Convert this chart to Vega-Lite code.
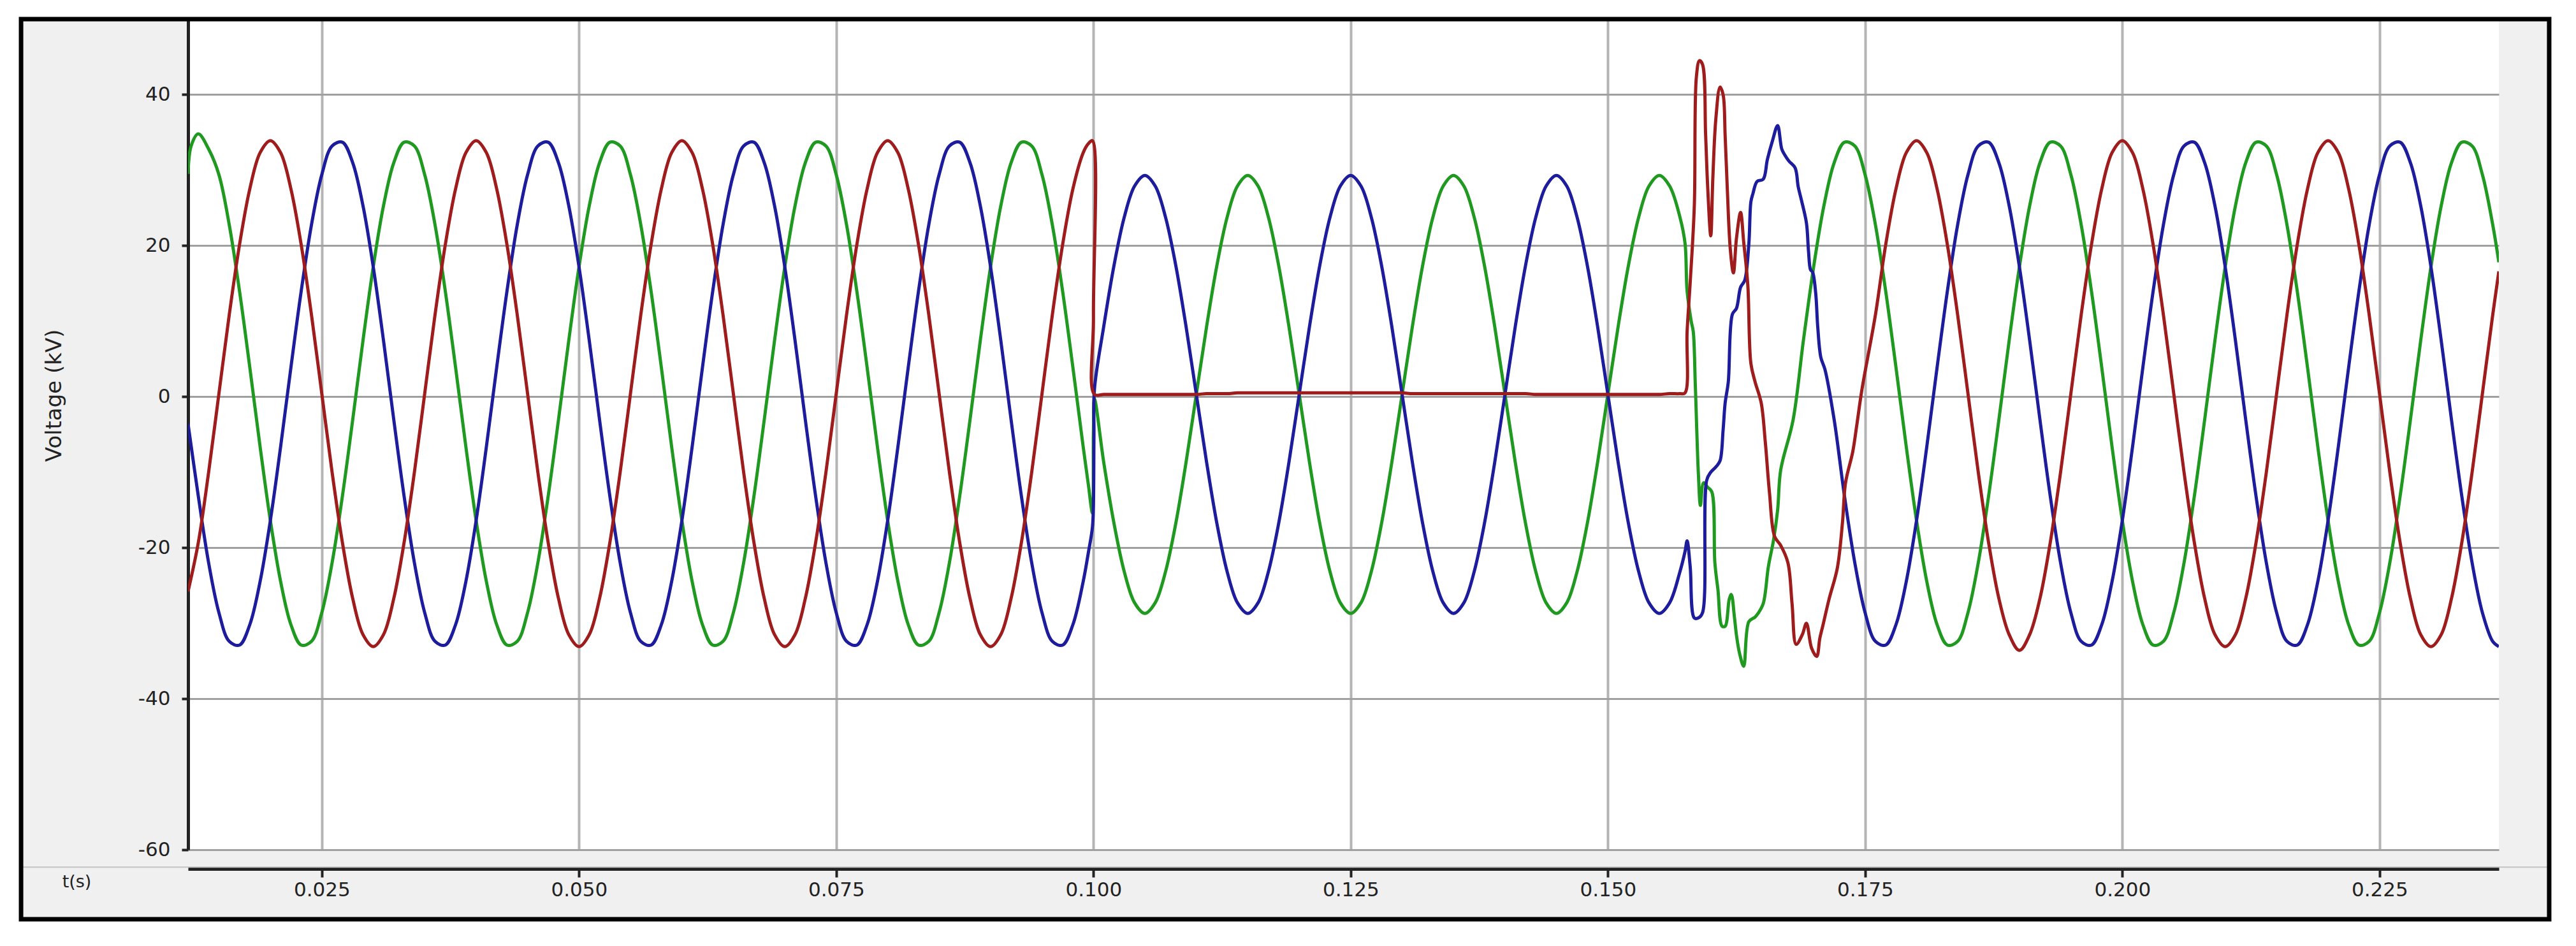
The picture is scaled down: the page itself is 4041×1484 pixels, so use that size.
{
"$schema":"https://vega.github.io/schema/vega-lite/v6.json",
"width":3625,"height":1303,
"autosize":{"type":"none"},
"padding":{"left":295,"top":30,"right":121,"bottom":151},
"background":"#f0f0f0",
"config":{"view":{"stroke":null,"fill":"white"},"font":"DejaVu Sans"},
"layer":[
{"data":{"values":[
{"t":0.012,"Va":-25.8,"Vb":-3.6,"Vc":29.5},
{"t":0.0123,"Vc":33.2},
{"t":0.013,"Va":-19.3,"Vb":-13.2,"Vc":34.8},
{"t":0.014,"Va":-10.0,"Vb":-22.0,"Vc":32.8},
{"t":0.015,"Va":0.4,"Vb":-28.6,"Vc":29.4},
{"t":0.016,"Va":10.8,"Vb":-32.4,"Vc":22.8},
{"t":0.017,"Va":20.1,"Vb":-32.9,"Vc":14.0},
{"t":0.018,"Va":27.5,"Vb":-30.2,"Vc":3.9},
{"t":0.019,"Va":32.3,"Vb":-24.5,"Vc":-6.6},
{"t":0.020,"Va":33.9,"Vb":-16.4,"Vc":-16.4},
{"t":0.021,"Va":32.3,"Vb":-6.6,"Vc":-24.5},
{"t":0.022,"Va":27.5,"Vb":3.9,"Vc":-30.2},
{"t":0.023,"Va":20.1,"Vb":14.0,"Vc":-32.9},
{"t":0.024,"Va":10.8,"Vb":22.8,"Vc":-32.4},
{"t":0.025,"Va":0.4,"Vb":29.4,"Vc":-28.6},
{"t":0.026,"Va":-10.0,"Vb":33.2,"Vc":-22.0},
{"t":0.027,"Va":-19.3,"Vb":33.7,"Vc":-13.2},
{"t":0.028,"Va":-26.7,"Vb":31.0,"Vc":-3.1},
{"t":0.029,"Va":-31.5,"Vb":25.3,"Vc":7.4},
{"t":0.030,"Va":-33.1,"Vb":17.2,"Vc":17.2},
{"t":0.031,"Va":-31.5,"Vb":7.4,"Vc":25.3},
{"t":0.032,"Va":-26.7,"Vb":-3.1,"Vc":31.0},
{"t":0.033,"Va":-19.3,"Vb":-13.2,"Vc":33.7},
{"t":0.034,"Va":-10.0,"Vb":-22.0,"Vc":33.2},
{"t":0.035,"Va":0.4,"Vb":-28.6,"Vc":29.4},
{"t":0.036,"Va":10.8,"Vb":-32.4,"Vc":22.8},
{"t":0.037,"Va":20.1,"Vb":-32.9,"Vc":14.0},
{"t":0.038,"Va":27.5,"Vb":-30.2,"Vc":3.9},
{"t":0.039,"Va":32.3,"Vb":-24.5,"Vc":-6.6},
{"t":0.040,"Va":33.9,"Vb":-16.4,"Vc":-16.4},
{"t":0.041,"Va":32.3,"Vb":-6.6,"Vc":-24.5},
{"t":0.042,"Va":27.5,"Vb":3.9,"Vc":-30.2},
{"t":0.043,"Va":20.1,"Vb":14.0,"Vc":-32.9},
{"t":0.044,"Va":10.8,"Vb":22.8,"Vc":-32.4},
{"t":0.045,"Va":0.4,"Vb":29.4,"Vc":-28.6},
{"t":0.046,"Va":-10.0,"Vb":33.2,"Vc":-22.0},
{"t":0.047,"Va":-19.3,"Vb":33.7,"Vc":-13.2},
{"t":0.048,"Va":-26.7,"Vb":31.0,"Vc":-3.1},
{"t":0.049,"Va":-31.5,"Vb":25.3,"Vc":7.4},
{"t":0.050,"Va":-33.1,"Vb":17.2,"Vc":17.2},
{"t":0.051,"Va":-31.5,"Vb":7.4,"Vc":25.3},
{"t":0.052,"Va":-26.7,"Vb":-3.1,"Vc":31.0},
{"t":0.053,"Va":-19.3,"Vb":-13.2,"Vc":33.7},
{"t":0.054,"Va":-10.0,"Vb":-22.0,"Vc":33.2},
{"t":0.055,"Va":0.4,"Vb":-28.6,"Vc":29.4},
{"t":0.056,"Va":10.8,"Vb":-32.4,"Vc":22.8},
{"t":0.057,"Va":20.1,"Vb":-32.9,"Vc":14.0},
{"t":0.058,"Va":27.5,"Vb":-30.2,"Vc":3.9},
{"t":0.059,"Va":32.3,"Vb":-24.5,"Vc":-6.6},
{"t":0.060,"Va":33.9,"Vb":-16.4,"Vc":-16.4},
{"t":0.061,"Va":32.3,"Vb":-6.6,"Vc":-24.5},
{"t":0.062,"Va":27.5,"Vb":3.9,"Vc":-30.2},
{"t":0.063,"Va":20.1,"Vb":14.0,"Vc":-32.9},
{"t":0.064,"Va":10.8,"Vb":22.8,"Vc":-32.4},
{"t":0.065,"Va":0.4,"Vb":29.4,"Vc":-28.6},
{"t":0.066,"Va":-10.0,"Vb":33.2,"Vc":-22.0},
{"t":0.067,"Va":-19.3,"Vb":33.7,"Vc":-13.2},
{"t":0.068,"Va":-26.7,"Vb":31.0,"Vc":-3.1},
{"t":0.069,"Va":-31.5,"Vb":25.3,"Vc":7.4},
{"t":0.070,"Va":-33.1,"Vb":17.2,"Vc":17.2},
{"t":0.071,"Va":-31.5,"Vb":7.4,"Vc":25.3},
{"t":0.072,"Va":-26.7,"Vb":-3.1,"Vc":31.0},
{"t":0.073,"Va":-19.3,"Vb":-13.2,"Vc":33.7},
{"t":0.074,"Va":-10.0,"Vb":-22.0,"Vc":33.2},
{"t":0.075,"Va":0.4,"Vb":-28.6,"Vc":29.4},
{"t":0.076,"Va":10.8,"Vb":-32.4,"Vc":22.8},
{"t":0.077,"Va":20.1,"Vb":-32.9,"Vc":14.0},
{"t":0.078,"Va":27.5,"Vb":-30.2,"Vc":3.9},
{"t":0.079,"Va":32.3,"Vb":-24.5,"Vc":-6.6},
{"t":0.080,"Va":33.9,"Vb":-16.4,"Vc":-16.4},
{"t":0.081,"Va":32.3,"Vb":-6.6,"Vc":-24.5},
{"t":0.082,"Va":27.5,"Vb":3.9,"Vc":-30.2},
{"t":0.083,"Va":20.1,"Vb":14.0,"Vc":-32.9},
{"t":0.084,"Va":10.8,"Vb":22.8,"Vc":-32.4},
{"t":0.085,"Va":0.4,"Vb":29.4,"Vc":-28.6},
{"t":0.086,"Va":-10.0,"Vb":33.2,"Vc":-22.0},
{"t":0.087,"Va":-19.3,"Vb":33.7,"Vc":-13.2},
{"t":0.088,"Va":-26.7,"Vb":31.0,"Vc":-3.1},
{"t":0.089,"Va":-31.5,"Vb":25.3,"Vc":7.4},
{"t":0.090,"Va":-33.1,"Vb":17.2,"Vc":17.2},
{"t":0.091,"Va":-31.5,"Vb":7.4,"Vc":25.3},
{"t":0.092,"Va":-26.7,"Vb":-3.1,"Vc":31.0},
{"t":0.093,"Va":-19.3,"Vb":-13.2,"Vc":33.7},
{"t":0.094,"Va":-10.0,"Vb":-22.0,"Vc":33.2},
{"t":0.095,"Va":0.4,"Vb":-28.6,"Vc":29.4},
{"t":0.096,"Va":10.8,"Vb":-32.4,"Vc":22.8},
{"t":0.097,"Va":20.1,"Vb":-32.9,"Vc":14.0},
{"t":0.098,"Va":27.5,"Vb":-30.2,"Vc":3.9},
{"t":0.099,"Va":32.3,"Vb":-24.5,"Vc":-6.6},
{"t":0.0995,"Va":33.5,"Vb":-20.7,"Vc":-11.6},
{"t":0.0999,"Va":33.9,"Vb":-17.3,"Vc":-15.4},
{"t":0.1,"Va":10.6,"Vb":-14.1,"Vc":-4.5},
{"t":0.10005,"Vb":-5.0},
{"t":0.1001,"Va":0.3,"Vb":1.0,"Vc":-0.3},
{"t":0.101,"Va":0.3,"Vb":9.3,"Vc":-8.7},
{"t":0.102,"Va":0.3,"Vb":17.4,"Vc":-16.8},
{"t":0.103,"Va":0.3,"Vb":23.8,"Vc":-23.2},
{"t":0.104,"Va":0.3,"Vb":27.9,"Vc":-27.3},
{"t":0.105,"Va":0.3,"Vb":29.3,"Vc":-28.7},
{"t":0.106,"Va":0.3,"Vb":27.9,"Vc":-27.3},
{"t":0.107,"Va":0.3,"Vb":23.8,"Vc":-23.2},
{"t":0.108,"Va":0.3,"Vb":17.4,"Vc":-16.8},
{"t":0.109,"Va":0.3,"Vb":9.3,"Vc":-8.7},
{"t":0.110,"Va":0.3,"Vb":0.3,"Vc":0.3},
{"t":0.111,"Va":0.4,"Vb":-8.7,"Vc":9.3},
{"t":0.112,"Va":0.4,"Vb":-16.8,"Vc":17.4},
{"t":0.113,"Va":0.4,"Vb":-23.2,"Vc":23.8},
{"t":0.114,"Va":0.5,"Vb":-27.3,"Vc":27.9},
{"t":0.115,"Va":0.5,"Vb":-28.7,"Vc":29.3},
{"t":0.116,"Va":0.5,"Vb":-27.3,"Vc":27.9},
{"t":0.117,"Va":0.5,"Vb":-23.2,"Vc":23.8},
{"t":0.118,"Va":0.5,"Vb":-16.8,"Vc":17.4},
{"t":0.119,"Va":0.5,"Vb":-8.7,"Vc":9.3},
{"t":0.120,"Va":0.5,"Vb":0.3,"Vc":0.3},
{"t":0.121,"Va":0.5,"Vb":9.3,"Vc":-8.7},
{"t":0.122,"Va":0.5,"Vb":17.4,"Vc":-16.8},
{"t":0.123,"Va":0.5,"Vb":23.8,"Vc":-23.2},
{"t":0.124,"Va":0.5,"Vb":27.9,"Vc":-27.3},
{"t":0.125,"Va":0.5,"Vb":29.3,"Vc":-28.7},
{"t":0.126,"Va":0.5,"Vb":27.9,"Vc":-27.3},
{"t":0.127,"Va":0.5,"Vb":23.8,"Vc":-23.2},
{"t":0.128,"Va":0.5,"Vb":17.4,"Vc":-16.8},
{"t":0.129,"Va":0.5,"Vb":9.3,"Vc":-8.7},
{"t":0.130,"Va":0.5,"Vb":0.3,"Vc":0.3},
{"t":0.131,"Va":0.4,"Vb":-8.7,"Vc":9.3},
{"t":0.132,"Va":0.4,"Vb":-16.8,"Vc":17.4},
{"t":0.133,"Va":0.4,"Vb":-23.2,"Vc":23.8},
{"t":0.134,"Va":0.4,"Vb":-27.3,"Vc":27.9},
{"t":0.135,"Va":0.4,"Vb":-28.7,"Vc":29.3},
{"t":0.136,"Va":0.4,"Vb":-27.3,"Vc":27.9},
{"t":0.137,"Va":0.4,"Vb":-23.2,"Vc":23.8},
{"t":0.138,"Va":0.4,"Vb":-16.8,"Vc":17.4},
{"t":0.139,"Va":0.4,"Vb":-8.7,"Vc":9.3},
{"t":0.140,"Va":0.4,"Vb":0.3,"Vc":0.3},
{"t":0.141,"Va":0.4,"Vb":9.3,"Vc":-8.7},
{"t":0.142,"Va":0.4,"Vb":17.4,"Vc":-16.8},
{"t":0.143,"Va":0.3,"Vb":23.8,"Vc":-23.2},
{"t":0.144,"Va":0.3,"Vb":27.9,"Vc":-27.3},
{"t":0.145,"Va":0.3,"Vb":29.3,"Vc":-28.7},
{"t":0.146,"Va":0.3,"Vb":27.9,"Vc":-27.3},
{"t":0.147,"Va":0.3,"Vb":23.8,"Vc":-23.2},
{"t":0.148,"Va":0.3,"Vb":17.4,"Vc":-16.8},
{"t":0.149,"Va":0.3,"Vb":9.3,"Vc":-8.7},
{"t":0.150,"Va":0.3,"Vb":0.3,"Vc":0.3},
{"t":0.151,"Va":0.3,"Vb":-8.7,"Vc":9.3},
{"t":0.152,"Va":0.3,"Vb":-16.8,"Vc":17.4},
{"t":0.153,"Va":0.3,"Vb":-23.2,"Vc":23.8},
{"t":0.154,"Va":0.3,"Vb":-27.3,"Vc":27.9},
{"t":0.155,"Va":0.3,"Vb":-28.7,"Vc":29.3},
{"t":0.156,"Va":0.4,"Vb":-27.3,"Vc":27.9},
{"t":0.157,"Va":0.4,"Vb":-23.2,"Vc":23.8},
{"t":0.1575,"Va":0.5,"Vb":-20.5,"Vc":20.3},
{"t":0.1577,"Va":8.6,"Vb":-19.1,"Vc":14.0},
{"t":0.158,"Va":15.1,"Vb":-22.5},
{"t":0.1581,"Vc":10.0},
{"t":0.1583,"Vc":8.6},
{"t":0.1584,"Va":25.2,"Vb":-29.3},
{"t":0.1585,"Vc":1.5},
{"t":0.1586,"Va":42.3},
{"t":0.1588,"Vb":-29.3,"Vc":-10.3},
{"t":0.1589,"Va":44.5},
{"t":0.159,"Vc":-14.4},
{"t":0.1592,"Va":44.0,"Vb":-28.6},
{"t":0.1593,"Vc":-11.4},
{"t":0.1595,"Va":34.7},
{"t":0.1596,"Vb":-11.1},
{"t":0.1597,"Va":27.8,"Vc":-12.0},
{"t":0.16,"Va":21.3,"Vb":-10.0},
{"t":0.1601,"Vc":-12.6},
{"t":0.1602,"Va":28.9},
{"t":0.1604,"Vc":-22.0},
{"t":0.1605,"Va":36.9,"Vb":-9.3},
{"t":0.1607,"Vc":-25.6},
{"t":0.1609,"Va":41.0,"Vb":-8.5},
{"t":0.1611,"Vc":-30.4},
{"t":0.1612,"Va":40.0,"Vb":-4.4},
{"t":0.1614,"Va":34.5,"Vb":-0.8,"Vc":-30.4},
{"t":0.1616,"Va":27.8},
{"t":0.1617,"Vb":1.9},
{"t":0.1618,"Vc":-26.8},
{"t":0.1619,"Va":19.5},
{"t":0.162,"Vc":-26.2},
{"t":0.1621,"Vb":10.9},
{"t":0.1622,"Va":16.4},
{"t":0.1623,"Vc":-29.2},
{"t":0.1625,"Va":21.0,"Vb":11.7,"Vc":-31.6},
{"t":0.1628,"Vc":-34.0},
{"t":0.1629,"Va":24.4,"Vb":14.5},
{"t":0.1632,"Va":20.5,"Vc":-35.7},
{"t":0.1633,"Vb":15.4},
{"t":0.1636,"Va":14.8},
{"t":0.1637,"Vb":20.2,"Vc":-29.8},
{"t":0.1639,"Va":4.4,"Vb":25.8},
{"t":0.1641,"Vb":26.9},
{"t":0.1643,"Va":2.0,"Vc":-29.2},
{"t":0.1645,"Vb":28.5},
{"t":0.1646,"Vc":-28.7},
{"t":0.1649,"Va":-0.8},
{"t":0.1651,"Vb":28.8,"Vc":-27.4},
{"t":0.1653,"Va":-6.0},
{"t":0.1655,"Vb":31.4},
{"t":0.1656,"Vc":-22.5},
{"t":0.1657,"Va":-12.6},
{"t":0.166,"Vb":33.9},
{"t":0.1661,"Vc":-19.0},
{"t":0.1662,"Va":-18.5},
{"t":0.1665,"Vb":35.9,"Vc":-15.0},
{"t":0.1668,"Va":-19.7,"Vc":-9.7},
{"t":0.1669,"Vb":32.8},
{"t":0.1672,"Vb":32.0},
{"t":0.1675,"Va":-22.0},
{"t":0.1676,"Vb":31.2},
{"t":0.1679,"Va":-27.4},
{"t":0.168,"Vc":-3.1},
{"t":0.1682,"Vb":30.3},
{"t":0.1683,"Va":-32.8},
{"t":0.1685,"Vb":27.8},
{"t":0.1688,"Vb":26.1},
{"t":0.1689,"Va":-31.5},
{"t":0.169,"Vc":7.4},
{"t":0.1693,"Va":-30.0,"Vb":23.0},
{"t":0.1695,"Vb":19.3},
{"t":0.1697,"Vb":16.8},
{"t":0.1698,"Va":-33.3},
{"t":0.1699,"Vb":16.5},
{"t":0.17,"Vc":17.2},
{"t":0.1702,"Vb":13.7},
{"t":0.1703,"Va":-34.4},
{"t":0.1704,"Vb":9.2},
{"t":0.1706,"Va":-32.0},
{"t":0.1707,"Vb":5.2},
{"t":0.1709,"Va":-30.3},
{"t":0.171,"Vc":25.3},
{"t":0.1711,"Vb":3.6},
{"t":0.1715,"Va":-26.8},
{"t":0.172,"Vb":-3.1,"Vc":31.0},
{"t":0.1723,"Va":-22.7},
{"t":0.1728,"Va":-16.7},
{"t":0.173,"Vb":-13.2,"Vc":33.7},
{"t":0.1731,"Va":-11.4},
{"t":0.1738,"Va":-7.3},
{"t":0.174,"Vb":-22.0,"Vc":33.2},
{"t":0.1742,"Va":-3.7},
{"t":0.1747,"Va":1.0},
{"t":0.175,"Vb":-28.6,"Vc":29.4},
{"t":0.176,"Va":10.8,"Vb":-32.4,"Vc":22.8},
{"t":0.177,"Va":20.1,"Vb":-32.9,"Vc":14.0},
{"t":0.178,"Va":27.5,"Vb":-30.2,"Vc":3.9},
{"t":0.179,"Va":32.3,"Vb":-24.5,"Vc":-6.6},
{"t":0.180,"Va":33.9,"Vb":-16.4,"Vc":-16.4},
{"t":0.181,"Va":32.3,"Vb":-6.6,"Vc":-24.5},
{"t":0.182,"Va":27.5,"Vb":3.9,"Vc":-30.2},
{"t":0.183,"Va":20.1,"Vb":14.0,"Vc":-32.9},
{"t":0.184,"Va":10.8,"Vb":22.8,"Vc":-32.4},
{"t":0.185,"Va":0.4,"Vb":29.4,"Vc":-28.6},
{"t":0.186,"Va":-10.0,"Vb":33.2,"Vc":-22.0},
{"t":0.187,"Va":-19.3,"Vb":33.7,"Vc":-13.2},
{"t":0.188,"Va":-26.7,"Vb":31.0,"Vc":-3.1},
{"t":0.189,"Va":-31.5,"Vb":25.3,"Vc":7.4},
{"t":0.190,"Va":-33.6,"Vb":17.2,"Vc":17.2},
{"t":0.191,"Va":-31.5,"Vb":7.4,"Vc":25.3},
{"t":0.192,"Va":-26.7,"Vb":-3.1,"Vc":31.0},
{"t":0.193,"Va":-19.3,"Vb":-13.2,"Vc":33.7},
{"t":0.194,"Va":-10.0,"Vb":-22.0,"Vc":33.2},
{"t":0.195,"Va":0.4,"Vb":-28.6,"Vc":29.4},
{"t":0.196,"Va":10.8,"Vb":-32.4,"Vc":22.8},
{"t":0.197,"Va":20.1,"Vb":-32.9,"Vc":14.0},
{"t":0.198,"Va":27.5,"Vb":-30.2,"Vc":3.9},
{"t":0.199,"Va":32.3,"Vb":-24.5,"Vc":-6.6},
{"t":0.200,"Va":33.9,"Vb":-16.4,"Vc":-16.4},
{"t":0.201,"Va":32.3,"Vb":-6.6,"Vc":-24.5},
{"t":0.202,"Va":27.5,"Vb":3.9,"Vc":-30.2},
{"t":0.203,"Va":20.1,"Vb":14.0,"Vc":-32.9},
{"t":0.204,"Va":10.8,"Vb":22.8,"Vc":-32.4},
{"t":0.205,"Va":0.4,"Vb":29.4,"Vc":-28.6},
{"t":0.206,"Va":-10.0,"Vb":33.2,"Vc":-22.0},
{"t":0.207,"Va":-19.3,"Vb":33.7,"Vc":-13.2},
{"t":0.208,"Va":-26.7,"Vb":31.0,"Vc":-3.1},
{"t":0.209,"Va":-31.5,"Vb":25.3,"Vc":7.4},
{"t":0.210,"Va":-33.1,"Vb":17.2,"Vc":17.2},
{"t":0.211,"Va":-31.5,"Vb":7.4,"Vc":25.3},
{"t":0.212,"Va":-26.7,"Vb":-3.1,"Vc":31.0},
{"t":0.213,"Va":-19.3,"Vb":-13.2,"Vc":33.7},
{"t":0.214,"Va":-10.0,"Vb":-22.0,"Vc":33.2},
{"t":0.215,"Va":0.4,"Vb":-28.6,"Vc":29.4},
{"t":0.216,"Va":10.8,"Vb":-32.4,"Vc":22.8},
{"t":0.217,"Va":20.1,"Vb":-32.9,"Vc":14.0},
{"t":0.218,"Va":27.5,"Vb":-30.2,"Vc":3.9},
{"t":0.219,"Va":32.3,"Vb":-24.5,"Vc":-6.6},
{"t":0.220,"Va":33.9,"Vb":-16.4,"Vc":-16.4},
{"t":0.221,"Va":32.3,"Vb":-6.6,"Vc":-24.5},
{"t":0.222,"Va":27.5,"Vb":3.9,"Vc":-30.2},
{"t":0.223,"Va":20.1,"Vb":14.0,"Vc":-32.9},
{"t":0.224,"Va":10.8,"Vb":22.8,"Vc":-32.4},
{"t":0.225,"Va":0.4,"Vb":29.4,"Vc":-28.6},
{"t":0.226,"Va":-10.0,"Vb":33.2,"Vc":-22.0},
{"t":0.227,"Va":-19.3,"Vb":33.7,"Vc":-13.2},
{"t":0.228,"Va":-26.7,"Vb":31.0,"Vc":-3.1},
{"t":0.229,"Va":-31.5,"Vb":25.3,"Vc":7.4},
{"t":0.230,"Va":-33.1,"Vb":17.2,"Vc":17.2},
{"t":0.231,"Va":-31.5,"Vb":7.4,"Vc":25.3},
{"t":0.232,"Va":-26.7,"Vb":-3.1,"Vc":31.0},
{"t":0.233,"Va":-19.3,"Vb":-13.2,"Vc":33.7},
{"t":0.234,"Va":-10.0,"Vb":-22.0,"Vc":33.2},
{"t":0.235,"Va":0.4,"Vb":-28.6,"Vc":29.4},
{"t":0.236,"Va":10.8,"Vb":-32.4,"Vc":22.8},
{"t":0.2366,"Va":16.6,"Vb":-33.1,"Vc":17.8}
]},
"transform":[{"fold":["Vc","Vb","Va"],"as":["ph","v"]},{"filter":"isValid(datum.v)"}],
"mark":{"type":"line","strokeWidth":5,"interpolate":"catmull-rom","strokeJoin":"round","clip":true},
"encoding":{
"x":{"field":"t","type":"quantitative","scale":{"domain":[0.012,0.2366],"nice":false,"zero":false},
"axis":{"title":"t(s)","values":[0.025,0.05,0.075,0.1,0.125,0.15,0.175,0.2,0.225],"format":".3f","offset":30,
"domainColor":"#222","domainWidth":5,"tickColor":"#222","tickWidth":4,"tickSize":13,"labelPadding":5,
"labelFontSize":31,"labelColor":"#222","labelFont":"DejaVu Sans","grid":true,"gridColor":"#b4b4b4","gridWidth":4,
"titleFont":"DejaVu Sans","titleFontSize":27,"titleFontWeight":"normal","titleColor":"#222","titleX":-175,"titleY":20,"titleAlign":"center","titleBaseline":"middle","titleAngle":0}},
"y":{"field":"v","type":"quantitative","scale":{"domain":[-60,50],"nice":false,"zero":false},
"axis":{"title":"Voltage (kV)","values":[-60,-40,-20,0,20,40],"labelExpr":"toString(datum.value)",
"domainColor":"#222","domainWidth":5,"tickColor":"#222","tickWidth":4,"tickSize":10,"labelPadding":18,
"labelFontSize":31,"labelColor":"#222","labelFont":"DejaVu Sans","grid":true,"gridColor":"#a0a0a0","gridWidth":3,
"titleFont":"DejaVu Sans","titleFontSize":34,"titleFontWeight":"normal","titleColor":"#222","titleAngle":270,"titleX":-210,"titleY":590,"titleAlign":"center","titleBaseline":"middle"}},
"color":{"field":"ph","type":"nominal","scale":{"domain":["Va","Vb","Vc"],"range":["#9e1c1c","#1c1c9c","#1f991f"]},"legend":null}
}},
{"data":{"values":[{}]},"mark":{"type":"rect","fill":"transparent","stroke":"white","strokeWidth":90},
"encoding":{"x":{"datum":-0.00724},"x2":{"datum":0.24449},"y":{"datum":54.09},"y2":{"datum":-73.3}}},
{"data":{"values":[{}]},"mark":{"type":"rule","stroke":"#c4c4c4","strokeWidth":2},
"encoding":{"x":{"datum":-0.0042},"x2":{"datum":0.2415},"y":{"datum":-62.3}}},
{"data":{"values":[{}]},"mark":{"type":"rect","fill":"transparent","stroke":"black","strokeWidth":7},
"encoding":{"x":{"datum":-0.00423},"x2":{"datum":0.24149},"y":{"datum":50},"y2":{"datum":-69.2}}}
]
}
